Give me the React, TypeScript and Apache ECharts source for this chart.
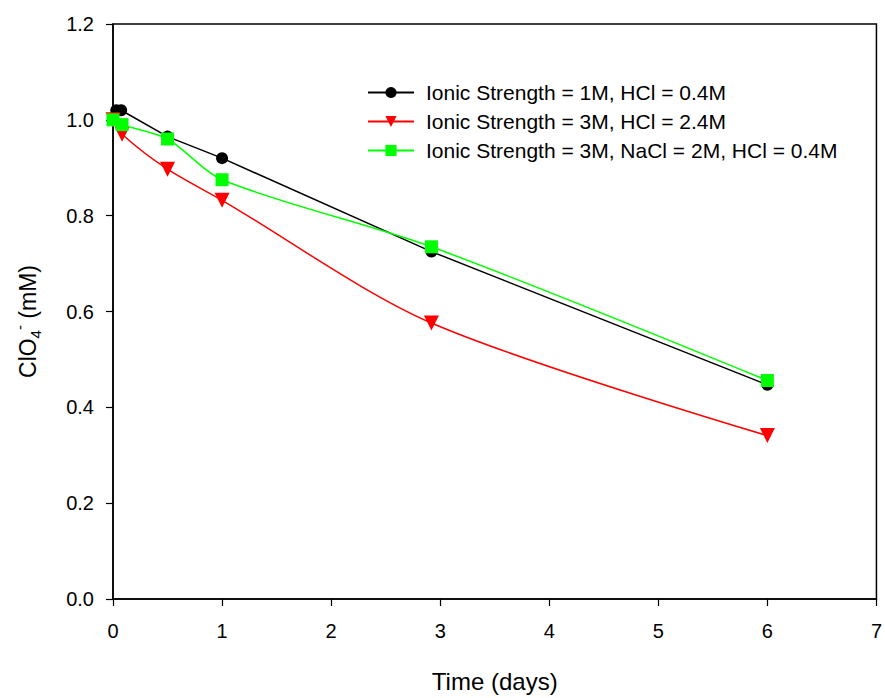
import React, { useEffect, useRef } from "react";
import * as echarts from "echarts";

const seriesNames = [
  "Ionic Strength = 1M, HCl = 0.4M",
  "Ionic Strength = 3M, HCl = 2.4M",
  "Ionic Strength = 3M, NaCl = 2M, HCl = 0.4M",
];

const blackTime = [0.03, 0.075, 0.5, 1, 2.92, 6];
const blackValue = [1.02, 1.02, 0.965, 0.92, 0.725, 0.447];

const redTime = [0, 0.083, 0.5, 1, 2.92, 6];
const redValue = [1.0, 0.97, 0.897, 0.832, 0.576, 0.341];

const greenTime = [0, 0.083, 0.5, 1, 2.92, 6];
const greenValue = [1.0, 0.99, 0.96, 0.875, 0.735, 0.456];

const xTicks = [0, 1, 2, 3, 4, 5, 6, 7];
const yTicks = [0, 0.2, 0.4, 0.6, 0.8, 1.0, 1.2];

const pair = (t: number[], v: number[]) => t.map((x, i) => [x, v[i]]);

export default function App() {
  const ref = useRef<HTMLDivElement>(null);
  useEffect(() => {
    if (!ref.current) return;
    const chart = echarts.init(ref.current, null, { renderer: "svg" });
    const font = "Liberation Sans, Arial, sans-serif";
    chart.setOption({
      animation: false,
      backgroundColor: "#fff",
      textStyle: { fontFamily: font },
      grid: {
        left: 113,
        top: 24,
        right: 8,
        bottom: 98,
        show: true,
        borderColor: "#000",
        borderWidth: 1.5,
      },
      legend: {
        orient: "vertical",
        left: 362,
        top: 77,
        itemWidth: 46,
        itemHeight: 14,
        itemGap: 8,
        textStyle: {
          fontFamily: font,
          fontSize: 21,
          color: "#000",
          lineHeight: 21,
          padding: [0, 0, 0, 7],
        },
        data: seriesNames,
      },
      xAxis: {
        type: "value",
        min: xTicks[0],
        max: xTicks[xTicks.length - 1],
        interval: 1,
        name: "Time (days)",
        nameLocation: "middle",
        nameGap: 70,
        nameTextStyle: { fontFamily: font, fontSize: 24, color: "#000" },
        axisLine: { show: true, lineStyle: { color: "#000", width: 1.5 } },
        axisTick: { show: true, inside: false, length: 7, lineStyle: { color: "#000", width: 1.2 } },
        axisLabel: { fontFamily: font, fontSize: 20, color: "#000", margin: 22 },
        splitLine: { show: false },
      },
      yAxis: {
        type: "value",
        min: yTicks[0],
        max: yTicks[yTicks.length - 1],
        interval: 0.2,
        name: "{a|ClO}{s|4}{p|-}{a| (mM)}",
        nameLocation: "middle",
        nameGap: 70,
        nameRotate: 90,
        nameTextStyle: {
          fontFamily: font,
          fontSize: 24,
          color: "#000",
          padding: [0, 20, 0, 0],
          rich: {
            a: { fontFamily: font, fontSize: 23, color: "#000", verticalAlign: "middle" },
            s: { fontFamily: font, fontSize: 15, color: "#000", padding: [16, 0, 0, 0] },
            p: { fontFamily: font, fontSize: 15, color: "#000", padding: [0, 0, 16, 0] },
          },
        },
        axisLine: { show: true, lineStyle: { color: "#000", width: 1.5 } },
        axisTick: { show: true, inside: false, length: 7, lineStyle: { color: "#000", width: 1.2 } },
        axisLabel: {
          fontFamily: font,
          fontSize: 20,
          color: "#000",
          margin: 19,
          formatter: (v: number) => v.toFixed(1),
        },
        splitLine: { show: false },
      },
      series: [
        {
          name: seriesNames[0],
          type: "line",
          data: pair(blackTime, blackValue),
          symbol: "circle",
          symbolSize: 12,
          itemStyle: { color: "#000" },
          lineStyle: { color: "#000", width: 1.5 },
          z: 3,
        },
        {
          name: seriesNames[1],
          type: "line",
          data: pair(redTime, redValue),
          smooth: 0.3,
          symbol: "triangle",
          symbolRotate: 180,
          symbolSize: 15,
          itemStyle: { color: "#ff0000" },
          lineStyle: { color: "#ff0000", width: 1.5 },
          z: 4,
        },
        {
          name: seriesNames[2],
          type: "line",
          data: pair(greenTime, greenValue),
          smooth: 0.3,
          symbol: "rect",
          symbolSize: 13,
          itemStyle: { color: "#00ff00" },
          lineStyle: { color: "#00ff00", width: 1.5 },
          z: 5,
        },
      ],
    });
    return () => chart.dispose();
  }, []);
  return <div ref={ref} style={{ width: 885, height: 698, position: "absolute", left: 0, top: 0 }} />;
}
